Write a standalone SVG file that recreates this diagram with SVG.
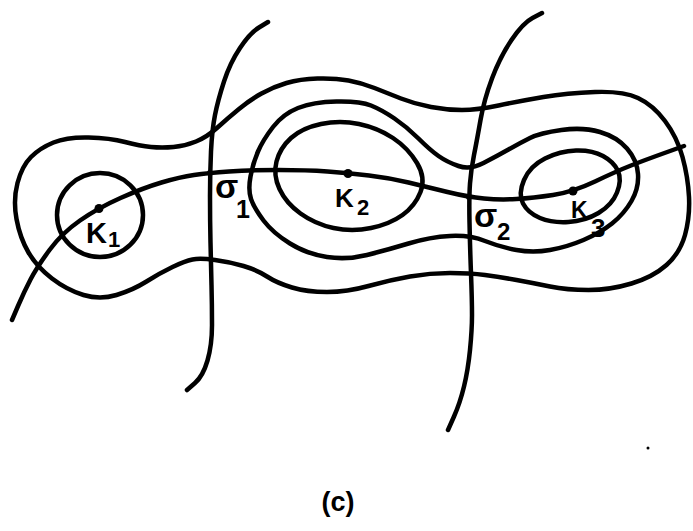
<svg xmlns="http://www.w3.org/2000/svg" width="693" height="531" viewBox="0 0 693 531">
<style>
.c{fill:none;stroke:#000;stroke-width:4.5;stroke-linecap:round;stroke-linejoin:round}
.d{fill:#000}
.t{font-family:"Liberation Sans",Arial,sans-serif;font-weight:bold;fill:#000}
</style>
<rect width="693" height="531" fill="#fff"/>
<g id="contours">
<path id="outer" class="c" d="M16.5,219 Q13,200 17.5,183 Q22,166 31,157 Q40,148 53.5,142.5 Q67,137 88.5,137.5 Q110,138 125,142 Q140,146 151,147 Q162,148 173.5,147 Q185,146 196,141.5 Q207,137 217.5,127.5 Q228,118 239,109 Q250,100 261.5,93.5 Q273,87 286.5,83 Q300,79 317.5,78.5 Q335,78 348.5,80.5 Q362,83 374.5,88 Q387,93 401,98.5 Q415,104 431,107 Q447,110 462,110 Q477,110 498.5,105.5 Q520,101 543.5,97 Q567,93 595,92 Q623,91 638,98 Q653,105 665,121 Q677,137 682.5,157 Q688,177 689,197 Q690,217 685,235 Q680,253 666.5,265 Q653,277 631.5,283.5 Q610,290 588.5,290 Q567,290 550,286.5 Q533,283 516.5,280 Q500,277 485,275 Q470,273 450,273 Q430,273 410,276.5 Q390,280 368.5,286 Q347,292 327,292 Q307,292 292,287.5 Q277,283 267,276.5 Q257,270 243.5,266 Q230,262 215,260 Q200,258 192.5,259.5 Q185,261 172.5,267 Q160,273 146.5,281.5 Q133,290 116.5,295 Q100,300 83.5,295 Q67,290 52,278.5 Q37,267 28.5,252.5 Q20,238 16.5,219 Z"/>
<path id="middle" class="c" d="M251,199 Q248,190 250.5,176.5 Q253,163 258,151.5 Q263,140 273,127 Q283,114 298,108 Q313,102 336.5,101.5 Q360,101 371,105.5 Q382,110 394.5,118.5 Q407,127 418.5,138.5 Q430,150 438.5,156 Q447,162 458.5,166 Q470,170 483.5,163 Q497,156 508.5,149.5 Q520,143 530,138 Q540,133 561.5,130 Q583,127 600,132 Q617,137 627,148.5 Q637,160 638,174 Q639,188 631.5,201 Q624,214 612,223.5 Q600,233 583.5,240 Q567,247 550,250 Q533,253 516.5,250 Q500,247 485,241 Q470,235 450,236 Q430,237 408.5,243.5 Q387,250 367,255 Q347,260 327,257 Q307,254 290,243.5 Q273,233 263.5,220.5 Q254,208 251,199 Z"/>
<path id="inner-k2" class="c" d="M279.5,189 Q273,175 276.5,161.5 Q280,148 291,138 Q302,128 321,124 Q340,120 359,124 Q378,128 393,138 Q408,148 417,163 Q426,178 420.5,192 Q415,206 402.5,215 Q390,224 371,228 Q352,232 333.5,228 Q315,224 300.5,213.5 Q286,203 279.5,189 Z"/>
<ellipse id="inner-k1" class="c" cx="100" cy="215" rx="43" ry="42"/>
<path id="inner-k3" class="c" d="M523,203.5 Q518,194 524,180 Q530,166 545,158.5 Q560,151 576,150.5 Q592,150 603,156 Q614,162 618,171 Q622,180 617,192.5 Q612,205 598.5,213 Q585,221 568.5,222 Q552,223 540,218 Q528,213 523,203.5 Z"/>
</g>
<g id="connectors">
<path id="ridge" class="c" d="M12,320 L18,306 Q24,292 30.5,279.5 Q37,267 49.5,250 Q62,233 80,220.5 Q98,208 120.5,198 Q143,188 161.5,182.5 Q180,177 194,175 Q208,173 229,171.5 Q250,170 278.5,170 Q307,170 327.5,171.5 Q348,173 369,175.5 Q390,178 408.5,182.5 Q427,187 447.5,192 Q468,197 484,198.5 Q500,200 516.5,199 Q533,198 553,195 Q573,192 595,181.5 Q617,171 631,165.5 Q645,160 664.5,153 L684,146"/>
<path id="sep1" class="c" d="M268,22 L259,27.5 Q250,33 240,48 Q230,63 224,81.5 Q218,100 215,115 Q212,130 211,151.5 Q210,173 210,196.5 Q210,220 210.5,242.5 Q211,265 211.5,285 Q212,305 212,325 Q212,345 207.5,360.5 Q203,376 195,383 L187,390"/>
<path id="sep2" class="c" d="M542,13 L532.5,18 Q523,23 511.5,40 Q500,57 492,78.5 Q484,100 480.5,120 Q477,140 474,155 Q471,170 470,183.5 Q469,197 469.5,222 Q470,247 471,273.5 Q472,300 472,315 Q472,330 470,350 Q468,370 464,386.5 Q460,403 454,416.5 L448,430"/>
</g>
<g id="K1"><circle class="d" cx="99" cy="208.5" r="4.5"/><text class="t" x="86" y="243" font-size="29">K<tspan x="108" y="247" font-size="22">1</tspan></text></g>
<g id="sigma1"><circle class="d" cx="210" cy="173" r="3"/><text class="t" x="215" y="198" font-size="34">σ</text><text class="t" x="236" y="218" font-size="25">1</text></g>
<g id="K2"><circle class="d" cx="348" cy="173.5" r="4.5"/><text class="t" x="335" y="207" font-size="26">K<tspan x="357" y="215" font-size="22">2</tspan></text></g>
<g id="sigma2"><circle class="d" cx="469" cy="197" r="3"/><text class="t" x="474" y="227" font-size="34">σ</text><text class="t" x="497" y="240" font-size="24">2</text></g>
<g id="K3"><circle class="d" cx="573" cy="191" r="4.5"/><text class="t" x="571" y="218" font-size="23">K<tspan x="591" y="237" font-size="26">3</tspan></text></g>
<circle class="d" cx="648" cy="448" r="1.5"/>
<text id="caption" class="t" x="338" y="511" font-size="27" text-anchor="middle">(c)</text>
</svg>
